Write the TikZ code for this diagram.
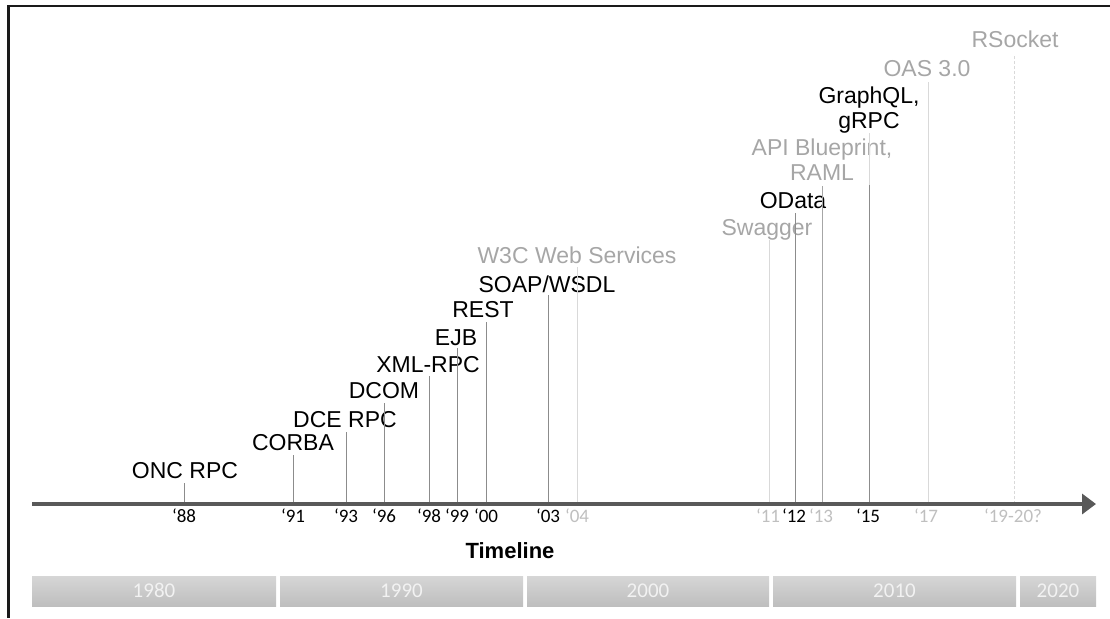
\documentclass[tikz,border=0pt]{standalone}
\usepackage{fontspec}
\setmainfont{Liberation Sans}
\newfontfamily\calfont{Carlito}
\usetikzlibrary{arrows.meta}
\definecolor{axisgray}{HTML}{595959}
\definecolor{lblgray}{HTML}{A6A6A6}
\definecolor{yrgray}{HTML}{BFBFBF}
\definecolor{tickdark}{HTML}{8C8C8C}
\definecolor{tickmid}{HTML}{A6A6A6}
\definecolor{ticklight}{HTML}{D9D9D9}
\definecolor{barlight}{HTML}{D6D6D6}
\definecolor{bardark}{HTML}{BEBEBE}
\definecolor{bartext}{HTML}{F2F2F2}
\definecolor{framecol}{HTML}{1A1A1A}
\begin{document}
\begin{tikzpicture}[x=1pt,y=-1pt,
  lbl/.style={font=\fontsize{23}{26}\selectfont, anchor=base, inner sep=0pt, text=black},
  glbl/.style={lbl, text=lblgray},
  yr/.style={font=\calfont\fontsize{19}{21}\selectfont, anchor=base, inner sep=0pt, text=black},
  gyr/.style={yr, text=yrgray},
  tickd/.style={line width=1pt, draw=tickdark},
  tickm/.style={line width=1pt, draw=tickmid},
  tickl/.style={line width=1pt, draw=ticklight},
  decade/.style={top color=barlight, bottom color=bardark, draw=none},
  decadetext/.style={font=\calfont\fontsize{21}{24}\selectfont, anchor=base, inner sep=0pt, text=bartext},
  framerule/.style={line width=2.5pt, draw=framecol}
]
\useasboundingbox (0,0) rectangle (1110,618);
% frame
\coordinate (fTL) at (8.5,6);
\coordinate (fTR) at (1110,6);
\coordinate (fBL) at (8.5,618);
\draw[framerule] (fTR) -- (fTL) -- (fBL);

% labels
\node[lbl] (onc) at (185,478) {ONC RPC};
\node[lbl] (corba) at (293,450) {CORBA};
\node[lbl] (dce) at (345,427) {DCE RPC};
\node[lbl] (dcom) at (384,398) {DCOM};
\node[lbl] (xml) at (428,372) {XML-RPC};
\node[lbl] (ejb) at (456,345) {EJB};
\node[lbl] (rest) at (483,317) {REST};
\node[lbl] (soap) at (547,292) {SOAP/WSDL};
\node[glbl] (w3c) at (577,263) {W3C Web Services};
\node[glbl] (swagger) at (767,235) {Swagger};
\node[lbl] (odata) at (793,208) {OData};
\node[glbl] (api) at (822,155) {API Blueprint,};
\node[glbl] (raml) at (822,180) {RAML};
\node[lbl] (graphql) at (869,103) {GraphQL,};
\node[lbl] (grpc) at (869,128) {gRPC};
\node[glbl] (oas) at (927,77) {OAS 3.0};
\node[glbl] (rsocket) at (1015,48) {RSocket};

% tick coordinates on the axis and tops
\foreach \n/\x/\t in {88/184/483, 91/293/455, 93/346/432, 96/384/403, 98/429/376, 99/457/348, 00/486/322, 03/548/295, 04/577/267, 11/769/240, 12/795/213, 13/822/186, 15/869/185, 15b/869/133, 17/928/82, 19/1014/55}{
  \coordinate (b\n) at (\x,504);
  \coordinate (t\n) at (\x,\t);
}
\draw[tickd] (b88) -- (t88);
\draw[tickd] (b91) -- (t91);
\draw[tickd] (b93) -- (t93);
\draw[tickd] (b96) -- (t96);
\draw[tickd] (b98) -- (t98);
\draw[tickd] (b99) -- (t99);
\draw[tickd] (b00) -- (t00);
\draw[tickd] (b03) -- (t03);
\draw[tickl] (b04) -- (t04);
\draw[tickl] (b11) -- (t11);
\draw[tickd] (b12) -- (t12);
\draw[tickm] (b13) -- (t13);
\draw[tickl] (b15b) -- (t15b);
\draw[tickd] (b15) -- (t15);
\draw[tickl] (b17) -- (t17);
\draw[tickl, dashed, dash pattern=on 3pt off 2pt] (b19) -- (t19);

% axis
\coordinate (axs) at (32,504);
\coordinate (axe) at (1096,504);
\draw[line width=4pt, draw=axisgray, -{Triangle[length=14pt,width=20pt]}] (axs) -- (axe);

% year labels
\node[yr] (l88) at (184,522) {‘88};
\node[yr] (l91) at (293,522) {‘91};
\node[yr] (l93) at (346,522) {‘93};
\node[yr] (l96) at (384,522) {‘96};
\node[yr] (l98) at (429,522) {‘98};
\node[yr] (l99) at (457,522) {‘99};
\node[yr] (l00) at (486,522) {‘00};
\node[yr] (l03) at (548,522) {‘03};
\node[gyr] (l04) at (577,522) {‘04};
\node[gyr] (l11) at (768,522) {‘11};
\node[yr] (l12) at (794,522) {‘12};
\node[gyr] (l13) at (821,522) {‘13};
\node[yr] (l15) at (868,522) {‘15};
\node[gyr] (l17) at (926,522) {‘17};
\node[gyr] (l19) at (1013,522) {‘19-20?};

% title
\node[font=\bfseries\fontsize{22}{25}\selectfont, anchor=base, inner sep=0pt] (timeline) at (510,558) {Timeline};

% decade bars
\shade[decade] (32,576) rectangle (276,606);
\shade[decade] (280,576) rectangle (523,606);
\shade[decade] (527,576) rectangle (769,606);
\shade[decade] (773,576) rectangle (1016,606);
\shade[decade] (1020,576) rectangle (1096,606);
\node[decadetext] (d1980) at (154,597) {1980};
\node[decadetext] (d1990) at (401.5,597) {1990};
\node[decadetext] (d2000) at (648,597) {2000};
\node[decadetext] (d2010) at (894.5,597) {2010};
\node[decadetext] (d2020) at (1058,597) {2020};
\end{tikzpicture}
\end{document}
